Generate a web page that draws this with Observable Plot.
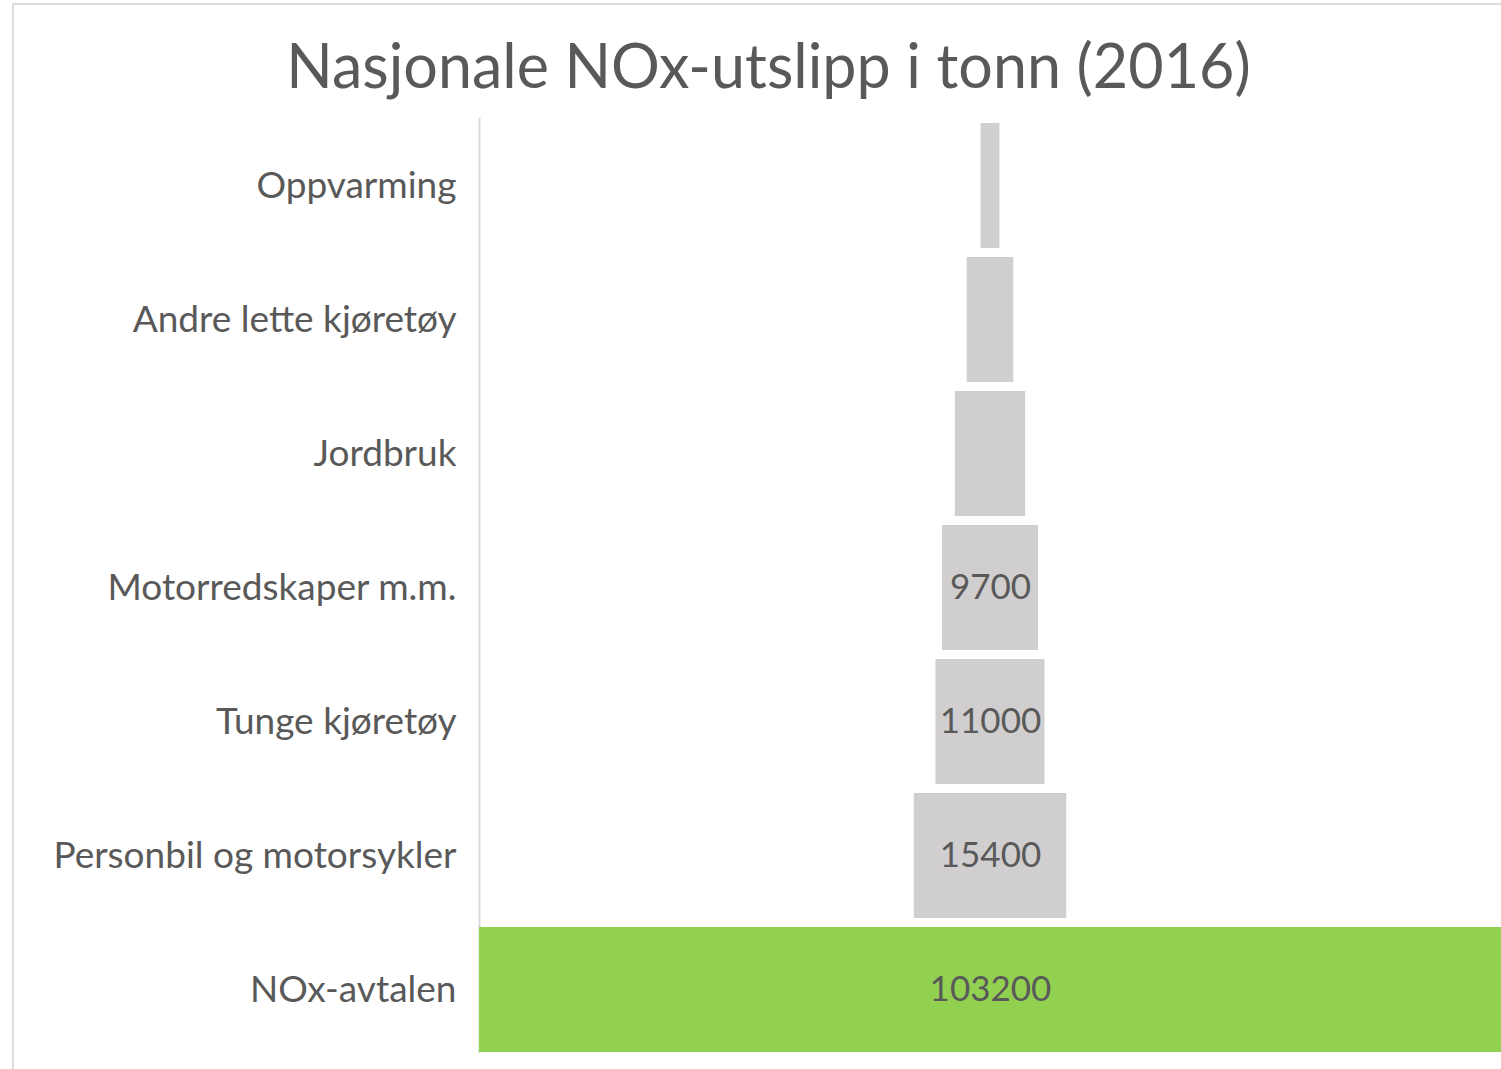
<!DOCTYPE html>
<html>
<head>
<meta charset="utf-8">
<script src="https://cdn.jsdelivr.net/npm/d3@7"></script>
<script src="https://cdn.jsdelivr.net/npm/@observablehq/plot@0.6"></script>
<style>
  html, body { margin: 0; padding: 0; background: #fff; }
  #wrap { position: relative; width: 1501px; height: 1069px; overflow: hidden; background: #fff; }
  #frameTop { position: absolute; left: 12px; top: 3px; width: 1489px; height: 2px; background: #dcdcdc; }
  #frameLeft { position: absolute; left: 12px; top: 3px; width: 2px; height: 1066px; background: #dcdcdc; }
  #title { position: absolute; left: 0; top: 0; width: 1501px; height: 110px; text-align: center;
    font-family: Lato, "Open Sans", sans-serif; font-size: 61px; color: #595959; line-height: 1;
    padding-left: 36px; box-sizing: border-box; padding-top: 34px; }
  #chart { position: absolute; left: 0; top: 110px; }
</style>
</head>
<body>
<div id="wrap">
  <div id="frameTop"></div>
  <div id="frameLeft"></div>
  <div id="title">Nasjonale NOx-utslipp i tonn (2016)</div>
  <div id="chart"></div>
</div>
<script>
const categories = ["Oppvarming", "Andre lette kjøretøy", "Jordbruk", "Motorredskaper m.m.", "Tunge kjøretøy", "Personbil og motorsykler", "NOx-avtalen"];
const values = [1900, 4700, 7100, 9700, 11000, 15400, 103200];
const shownLabels = [null, null, null, "9700", "11000", "15400", "103200"];
const barColors = ["#d0cece", "#d0cece", "#d0cece", "#d0cece", "#d0cece", "#d0cece", "#92d050"];

const data = categories.map((c, i) => ({cat: c, value: values[i], label: shownLabels[i], color: barColors[i]}));
const half = 51600;

const chart = Plot.plot({
  width: 1501,
  height: 959,
  marginLeft: 479,
  marginRight: 0,
  marginTop: 4,
  marginBottom: 8,
  style: {fontFamily: "Lato, 'Open Sans', sans-serif", color: "#595959", background: "transparent"},
  x: {domain: [-half, half], axis: null},
  y: {domain: categories, padding: 0.067, label: null, tickSize: 0, tickPadding: 23},
  marks: [
    Plot.ruleX([-half], {stroke: "#d9d9d9", strokeWidth: 2, insetTop: 4, insetBottom: 8}),
    Plot.barX(data, {y: "cat", x1: d => -d.value / 2, x2: d => d.value / 2, fill: "color"}),
    Plot.text(data.filter(d => d.label), {y: "cat", x: 0, text: "label", fill: "#595959", fontSize: 35}),
    Plot.axisY({tickSize: 0, tickPadding: 23, fontSize: 37, label: null, fill: "#595959"})
  ]
});
document.getElementById("chart").appendChild(chart);
</script>
</body>
</html>
